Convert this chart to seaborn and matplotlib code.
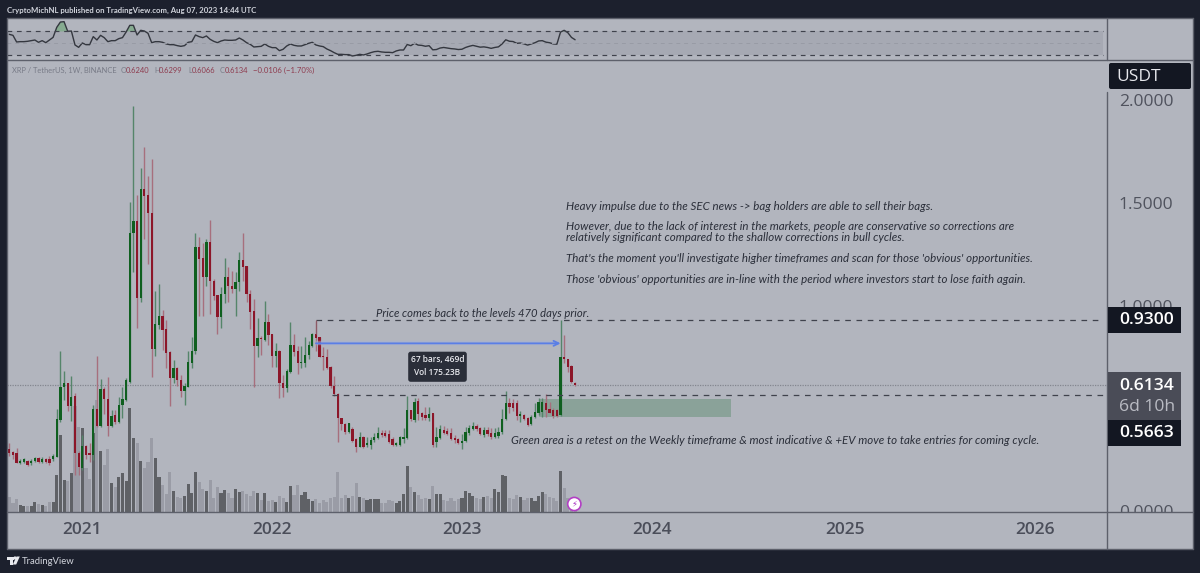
import numpy as np
import pandas as pd
import matplotlib
matplotlib.use('Agg')
import matplotlib.pyplot as plt
import seaborn as sns
from matplotlib.patches import Rectangle, FancyBboxPatch, Circle, Polygon
from matplotlib.lines import Line2D
from matplotlib.transforms import Affine2D

# weekly XRP/USDT candles
opens = [.304,.289,.281,.235,.239,.245,.232,.245,.257,.240,
         .255,.252,.252,.265,.443,.602,.622,.511,.560,.284,
         .208,.317,.281,.273,.497,.414,.593,.544,.414,.466,
         .435,.516,.541,.630,1.352,1.412,1.036,1.567,1.539,1.453,
         .787,.906,.950,.885,.776,.649,.698,.638,.584,.606,
         .722,.781,1.288,1.231,1.141,1.310,1.120,1.052,.943,1.057,
         1.138,1.096,1.081,1.115,1.223,1.193,1.057,.974,.804,.844,
         .833,.922,.860,.755,.781,.625,.601,.679,.807,.781,
         .722,.722,.761,.804,.862,.846,.755,.752,.703,.609,
         .570,.451,.424,.386,.398,.349,.313,.359,.321,.321,
         .346,.354,.381,.378,.375,.349,.321,.321,.352,.354,
         .492,.443,.537,.476,.468,.451,.476,.338,.354,.395,
         .391,.378,.354,.349,.333,.343,.381,.398,.414,.403,
         .370,.395,.378,.362,.365,.383,.446,.524,.528,.524,
         .463,.468,.451,.424,.456,.479,.484,.528,.495,.492,
         .492,.468,.750,.740,.706,.6240]
closes = [.281,.273,.235,.245,.252,.226,.245,.257,.240,.253,
          .239,.232,.268,.446,.606,.622,.511,.557,.281,.216,
          .317,.273,.273,.495,.414,.593,.544,.414,.464,.435,
          .516,.546,.638,1.352,1.412,1.036,1.567,1.534,1.450,.787,
          .909,.950,.882,.771,.649,.698,.638,.584,.609,.727,
          .781,1.288,1.227,1.141,1.310,1.120,1.049,.943,1.057,1.138,
          1.096,1.081,1.115,1.223,1.190,1.057,.971,.804,.841,.836,
          .922,.857,.755,.781,.625,.601,.684,.807,.776,.722,
          .727,.761,.807,.862,.843,.752,.749,.697,.609,.570,
          .451,.422,.386,.427,.341,.313,.359,.313,.330,.346,
          .362,.381,.368,.365,.338,.321,.333,.359,.359,.492,
          .446,.532,.472,.456,.451,.472,.321,.362,.398,.378,
          .375,.349,.346,.333,.343,.386,.403,.414,.398,.375,
          .395,.375,.359,.381,.386,.446,.524,.505,.500,.463,
          .472,.448,.419,.459,.484,.533,.533,.492,.479,.463,
          .463,.750,.740,.703,.630,.6134]
highs = [.330,.294,.305,.252,.260,.248,.252,.261,.261,.265,
         .260,.268,.278,.495,.781,.684,.625,.659,.573,.292,
         .370,.322,.330,.516,.757,.643,.606,.654,.492,.492,
         .554,.602,.646,1.503,1.973,1.539,1.669,1.775,1.632,1.713,
         1.073,1.104,.979,.930,.781,.735,.703,.662,.622,.781,
         .846,1.356,1.333,1.307,1.323,1.417,1.128,1.052,1.093,1.234,
         1.190,1.169,1.164,1.261,1.352,1.193,1.076,1.033,.938,.852,
         1.023,.960,.860,.820,.784,.662,.690,.919,.862,.804,
         .804,.849,.830,.865,.927,.846,.800,.787,.706,.658,
         .576,.451,.430,.430,.411,.354,.386,.365,.359,.359,
         .378,.411,.394,.394,.394,.359,.338,.365,.403,.562,
         .492,.549,.549,.484,.505,.505,.479,.408,.419,.414,
         .403,.403,.370,.354,.373,.408,.419,.432,.424,.408,
         .408,.408,.403,.403,.408,.495,.586,.549,.544,.541,
         .489,.472,.459,.468,.524,.549,.549,.570,.533,.500,
         .495,.930,.857,.740,.710,.6299]
lows = [.268,.255,.232,.229,.232,.219,.226,.240,.235,.235,
        .232,.226,.245,.261,.435,.541,.489,.438,.175,.175,
        .200,.252,.240,.248,.408,.408,.472,.365,.408,.424,
        .427,.451,.536,.625,1.166,.890,1.020,1.323,1.203,.651,
        .755,.885,.784,.698,.513,.625,.609,.557,.516,.602,
        .698,.763,.952,.952,1.096,.958,1.028,.862,.890,1.011,
        1.020,1.063,.951,1.072,1.120,1.020,.885,.606,.752,.760,
        .830,.809,.703,.700,.552,.557,.581,.674,.755,.667,
        .695,.700,.740,.800,.781,.749,.687,.693,.597,.562,
        .338,.394,.375,.381,.338,.289,.310,.305,.313,.304,
        .338,.349,.359,.359,.330,.316,.316,.316,.330,.349,
        .440,.435,.443,.443,.443,.440,.313,.313,.351,.373,
        .370,.346,.330,.326,.300,.338,.370,.395,.391,.370,
        .362,.365,.349,.354,.354,.375,.443,.479,.489,.443,
        .435,.443,.414,.419,.451,.468,.459,.456,.476,.451,
        .456,.465,.721,.679,.625,.6066]
volumes = [2.3,1.3,2.0,1.05,.95,.95,.9,1.5,1.2,1.1,.9,1.5,1.5,
           5.55,11.55,4.8,4.7,5.8,15.95,12.7,12.55,6.55,4.9,11.85,16.8,9.2,7.05,9.5,4.4,3.8,5.2,5.8,4.7,
           15.55,11.15,10.3,7.65,6.55,7.5,11.1,8.05,5.3,4.05,2.7,5.95,3.2,2.2,2.1,2.45,4.2,2.9,6.05,4.5,
           3.4,3.1,4.8,2.05,3.7,2.8,3.3,2.8,2.05,3.5,3.0,3.2,2.7,2.45,3.1,2.8,1.8,2.8,1.65,1.8,1.5,2.4,
           2.05,1.45,3.9,2.55,4.05,2.55,2.95,1.9,1.7,1.95,
           1.3,1.8,1.45,2.1,2.2,5.95,2.05,2.55,2.05,2.4,4.4,2.3,2.05,1.8,1.9,1.9,1.95,1.3,1.3,1.8,1.7,1.3,
           1.7,2.7,6.95,3.8,3.05,2.55,1.95,2.05,1.95,3.9,2.65,2.65,1.8,1.65,2.05,1.6,1.9,2.15,3.15,2.8,
           2.4,2.05,1.9,2.25,2.4,2.15,3.4,2.95,5.55,5.4,2.1,1.9,2.55,2.3,1.8,2.05,2.15,1.65,2.4,2.95,2.7,
           2.2,2.05,1.7,6.15,3.6,2.05,1.3,1.05]
rsi = [65.2,63.5,52.3,52.8,52.8,53.4,54.5,55.6,51.7,54.5,51.1,55.6,60.1,77.0,86.0,86.6,70.3,70.8,47.2,43.2,
       50.6,47.7,47.7,61.3,55.6,63.5,59.6,52.8,54.5,54.5,57.9,59.6,69.1,80.4,80.4,64.1,72.0,70.8,66.9,51.1,
       52.8,52.8,51.7,48.9,47.7,47.7,46.1,44.9,46.1,51.7,52.8,64.1,61.3,59.6,62.4,56.8,53.4,51.1,53.9,55.6,
       55.1,55.1,55.6,59.0,55.6,51.1,48.3,43.8,44.4,44.9,48.9,44.9,42.7,42.7,37.6,39.9,45.5,48.9,46.6,45.5,
       45.5,47.7,50.0,51.7,47.2,45.5,44.4,40.4,37.6,34.2,31.4,31.4,30.9,30.9,28.6,29.7,31.4,30.3,32.0,34.2,
       35.9,36.5,35.4,34.8,34.8,34.2,37.1,38.7,38.7,48.0,46.0,50.0,47.0,46.5,45.0,46.0,39.0,39.5,42.0,43.0,
       42.0,41.0,40.5,39.5,40.0,43.0,45.0,46.5,45.0,43.5,44.0,43.0,41.5,43.0,44.0,49.0,56.0,53.5,53.0,50.0,
       50.5,49.0,47.0,49.0,51.0,54.0,54.5,52.0,51.0,49.0,48.5,69.0,72.0,68.0,60.0,56.0]

year_labels = ['2021', '2022', '2023', '2024', '2025', '2026']
year_bars = [20, 72, 124, 176, 229, 281]
price_ticks = [0.0, 1.0, 1.5, 2.0]
last_close = 0.6134
level_top = 0.93
level_low = 0.5663
arrow_price = 0.8166

note_lines = ["Heavy impulse due to the SEC news -> bag holders are able to sell their bags.",
              "However, due to the lack of interest in the markets, people are conservative so corrections are",
              "relatively significant compared to the shallow corrections in bull cycles.",
              "That's the moment you'll investigate higher timeframes and scan for those 'obvious' opportunities.",
              "Those 'obvious' opportunities are in-line with the period where investors start to lose faith again."]
note_y = [206, 226.7, 237.3, 258, 279.3]

BG = '#b2b5be'
DARK = '#1c202d'
FRAME = '#5d606b'
LABEL_BOX = '#131722'
TXT = '#2a2e39'
GREEN = '#0f5f1f'
RED = '#8c1629'
GREEN_WICK = '#55856a'
RED_WICK = '#a76f7d'
THIN = ['Lato', 'DejaVu Sans']

sns.set_theme(style='white')
plt.rcParams['font.family'] = ['Open Sans', 'DejaVu Sans']

df = pd.DataFrame({'bar': np.arange(len(opens)), 'open': opens, 'high': highs, 'low': lows,
                   'close': closes, 'volume': volumes, 'rsi': rsi})
df['up'] = df['close'] >= df['open']
df['direction'] = np.where(df['up'], 'up', 'down')

fig = plt.figure(figsize=(12, 5.73), dpi=100, facecolor=DARK)
# overlay helper: picture pixels, origin top left
px = Affine2D().scale(1, -1).translate(0, 573)

fig.add_artist(Rectangle((7, 18), 1186, 531, transform=px, fc=BG, ec='none', zorder=-5))

ax_rsi = fig.add_axes([7/1200, 1-60/573, 1100/1200, 42/573], facecolor='none')
ax = fig.add_axes([7/1200, 1-512/573, 1100/1200, 452/573], facecolor='none')
ax_vol = ax.twinx()
ax.set_zorder(ax_vol.get_zorder() + 1)
ax.patch.set_visible(False)

xlim = (-0.63, 300.7)

# rsi pane
ax_rsi.axhspan(30, 70, xmin=0, xmax=1096/1100, color='#a6a9b3', lw=0)
sns.lineplot(data=df, x='bar', y='rsi', color='#34373f', lw=1.0, ax=ax_rsi, errorbar=None)
ax_rsi.fill_between(df['bar'], 70, df['rsi'], where=df['rsi'] >= 70, interpolate=True, color='#86ab90', lw=0)
for lvl, col, lw in [(70, '#3f424c', .85), (50, '#989ba5', .7), (30, '#3f424c', .85)]:
    ax_rsi.hlines(lvl, xlim[0], 299.6, colors=col, lw=lw, linestyles=(0, (4, 4)))
ax_rsi.set_xlim(xlim)
ax_rsi.set_ylim(21.8, 92.8)
ax_rsi.set_axis_off()

# volume pane shares the price axes
sns.barplot(data=df, x='bar', y='volume', hue='direction', palette={'up': '#5f6166', 'down': '#9a9ca6'},
            native_scale=True, dodge=False, width=0.85, saturation=1, legend=False, ax=ax_vol,
            linewidth=0, edgecolor='none')
ax_vol.set_ylim(0, 67.8)
ax_vol.set_yticks([])
ax_vol.set_ylabel('')
ax_vol.xaxis.set_visible(False)

# candles
for up, wick, body in [(True, GREEN_WICK, GREEN), (False, RED_WICK, RED)]:
    d = df[df['up'] == up]
    ax.vlines(d['bar'], d['low'], d['high'], colors=wick, lw=1.0, zorder=3)
    ax.bar(d['bar'], (d['close'] - d['open']).abs(), bottom=d[['open', 'close']].min(axis=1),
           width=0.62, color=body, lw=0, zorder=4)

# annotations
ax.axhspan(0.456, 0.547, xmin=(145-xlim[0])/(xlim[1]-xlim[0]), xmax=(197.7-xlim[0])/(xlim[1]-xlim[0]),
           color='#1f6f38', alpha=0.27, lw=0, zorder=2)
ax.axhline(last_close, color='#83868f', lw=.9, ls=(0, (1, 1)), zorder=1)
ax.hlines(level_top, 84, 299.6, colors='#3f424c', lw=.9, linestyles=(0, (4.5, 4.5)), zorder=5)
ax.hlines(level_low, 88.5, 299.6, colors='#3f424c', lw=.9, linestyles=(0, (4.5, 4.5)), zorder=5)
ax.vlines(84, 0.86, level_top, colors='#8c5a66', lw=.8, zorder=5)
ax.hlines(arrow_price, 84, 150.5, colors='#a3b1d8', lw=3.2, alpha=.5, zorder=5)
ax.annotate('', xy=(151, arrow_price), xytext=(84, arrow_price), zorder=6,
            arrowprops=dict(arrowstyle='->', color='#5a7ee6', lw=1.3, mutation_scale=9, shrinkA=0, shrinkB=0))

ax.set_xlim(xlim)
ax.set_ylim(-0.005, 2.197)
ax.set_xticks(year_bars, year_labels)
ax.set_yticks(price_ticks, [f'{p:.4f}' for p in price_ticks])
ax.yaxis.tick_right()
ax.tick_params(axis='x', length=0, pad=7, labelsize=12.5, labelcolor='#4b4e5a')
ax.tick_params(axis='y', length=0, pad=8.6, labelsize=12.6, labelcolor='#50535e')
for t in ax.get_xticklabels():
    t.set_fontweight('semibold')
ax.set_xlabel('')
ax.set_ylabel('')
for a in (ax, ax_vol):
    for s in a.spines.values():
        s.set_visible(False)

# covers what hangs below the price pane
fig.add_artist(Rectangle((1108, 512.5), 84, 36, transform=px, fc=BG, ec='none', zorder=2))

# frame lines
for x0, y0, x1, y1 in [(7, 18, 1193, 18), (7, 60, 1193, 60), (7, 512, 1193, 512), (7, 549, 1193, 549),
                       (7, 18, 7, 549), (1193, 18, 1193, 549), (1107, 18, 1107, 60), (1107, 92, 1107, 549)]:
    fig.add_artist(Line2D([x0, x1], [y0, y1], transform=px, color=FRAME, lw=1.0, zorder=3))


def put(x, y, s, **kw):
    kw.setdefault('va', 'center')
    kw.setdefault('transform', px)
    kw.setdefault('zorder', 6)
    return fig.text(x, y, s, **kw)


put(7, 10, 'CryptoMichNL published on TradingView.com, Aug 07, 2023 14:44 UTC', color='#d1d4dc', fontsize=5.55,
    family=THIN, fontweight='bold')

# legend row
put(12, 70.5, 'XRP / TetherUS, 1W, BINANCE', color='#787b87', fontsize=5.4, family=THIN)
for lx, name, vx, val in [(121, 'O', 125.5, '0.6240'), (154, 'H', 158.5, '0.6299'), (188, 'L', 192, '0.6066'),
                          (220, 'C', 224.5, '0.6134')]:
    put(lx, 70.5, name, color='#787b87', fontsize=5.4, family=THIN)
    put(vx, 70.5, val, color='#8e3b4e', fontsize=5.4, family=THIN)
put(253, 70.5, '\u22120.0106 (\u22121.70%)', color='#8e3b4e', fontsize=5.6, family=THIN)

# notes
for s, y in zip(note_lines, note_y):
    put(566, y, s, color=TXT, fontsize=8.25, family=THIN, style='italic')
put(376, 313.3, 'Price comes back to the levels 470 days prior.', color=TXT, fontsize=8.15,
    family=THIN, style='italic')
put(511, 440, 'Green area is a retest on the Weekly timeframe & most indicative & +EV move to take entries for coming cycle.',
    color=TXT, fontsize=8.3, family=THIN, style='italic')

# measure tooltip
fig.add_artist(FancyBboxPatch((410, 353.5), 55, 26.5, boxstyle='round,pad=1.8,rounding_size=2.5', transform=px,
                              fc='#2a2e39', ec='none', zorder=5))
put(437.5, 359.6, '67 bars, 469d', color='#e8e9ee', fontsize=6.0, ha='center', fontweight='semibold')
put(437.5, 372.7, 'Vol 175.23B', color='#e8e9ee', fontsize=6.0, ha='center', fontweight='semibold')

# price labels
fig.add_artist(FancyBboxPatch((1110.5, 64.5), 79, 23, boxstyle='round,pad=1.5,rounding_size=2', transform=px,
                              fc=LABEL_BOX, ec='none', zorder=4))
put(1116, 77, 'USDT', color='#e6e7ec', fontsize=12.5)
fig.add_artist(Rectangle((1107.5, 306.7), 73.5, 26.6, transform=px, fc=LABEL_BOX, ec='none', zorder=4))
put(1119, 320, '0.9300', color='white', fontsize=12.6, fontweight='semibold')
fig.add_artist(Rectangle((1107.5, 371.7), 73.5, 48.3, transform=px, fc='#4a4c57', ec='none', zorder=4))
put(1119, 385.7, '0.6134', color='white', fontsize=12.6, fontweight='semibold')
put(1119, 407, '6d 10h', color='#b9bbc3', fontsize=12.6)
fig.add_artist(Rectangle((1107.5, 420), 73.5, 25.7, transform=px, fc=LABEL_BOX, ec='none', zorder=4))
put(1119, 433.3, '0.5663', color='white', fontsize=12.6, fontweight='semibold')

# dividends icon
fig.add_artist(Circle((574.3, 504), 6.6, transform=px, fc='white', ec='#b23fc4', lw=1.2, zorder=5))
put(574.3, 504, '\u26a1', color='#a52fc0', fontsize=6, ha='center', family=['DejaVu Sans'])

# footer logo
for r in [(7, 556.5, 6.5, 3), (9.5, 556.5, 3, 8)]:
    fig.add_artist(Rectangle(r[:2], r[2], r[3], transform=px, fc='#e8e9ee', ec='none', zorder=5))
fig.add_artist(Circle((15, 558), 1.6, transform=px, fc='#e8e9ee', ec='none', zorder=5))
fig.add_artist(Polygon([(16.5, 556.5), (19.8, 556.5), (16.2, 564.5), (12.8, 564.5)], transform=px, fc='#e8e9ee',
                       ec='none', zorder=5))
put(22, 561, 'TradingView', color='#d1d4dc', fontsize=6.8, family=THIN)

fig.savefig('out.png', dpi=100, facecolor=DARK)
